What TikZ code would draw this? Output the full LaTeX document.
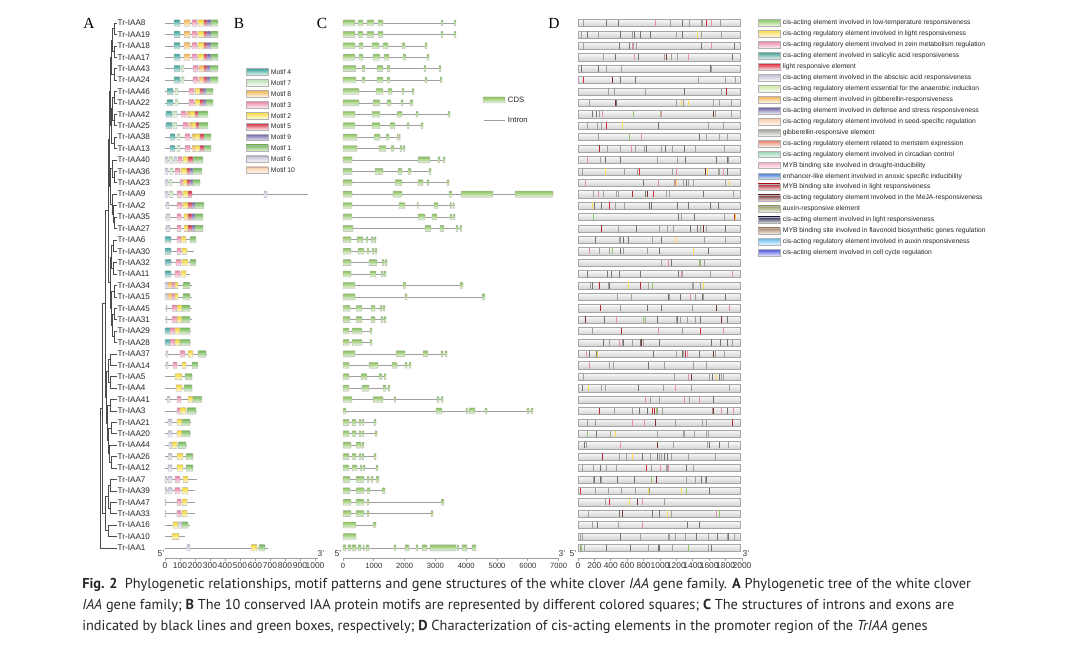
\documentclass[tikz,border=0pt]{standalone}
\usepackage{fontspec}
\setmainfont{Liberation Sans}
\newfontfamily\capfont{PT Sans}
\newfontfamily\letfont{Liberation Serif}
\usetikzlibrary{positioning}

% motif colours
\definecolor{mot4}{RGB}{60,165,155}
\definecolor{mot7}{RGB}{190,225,180}
\definecolor{mot8}{RGB}{245,180,80}
\definecolor{mot3}{RGB}{235,130,165}
\definecolor{mot2}{RGB}{245,215,50}
\definecolor{mot5}{RGB}{210,40,60}
\definecolor{mot9}{RGB}{110,95,165}
\definecolor{mot1}{RGB}{115,185,85}
\definecolor{mot6}{RGB}{195,195,215}
\definecolor{mot10}{RGB}{250,205,165}
\definecolor{cds}{RGB}{140,195,95}
% cis-element colours
\definecolor{cis1}{RGB}{140,200,100}
\definecolor{cis2}{RGB}{250,220,80}
\definecolor{cis3}{RGB}{235,140,170}
\definecolor{cis4}{RGB}{70,160,150}
\definecolor{cis5}{RGB}{215,40,55}
\definecolor{cis6}{RGB}{190,190,210}
\definecolor{cis7}{RGB}{205,230,160}
\definecolor{cis8}{RGB}{245,175,80}
\definecolor{cis9}{RGB}{100,90,160}
\definecolor{cis10}{RGB}{250,200,160}
\definecolor{cis11}{RGB}{160,160,150}
\definecolor{cis12}{RGB}{225,120,100}
\definecolor{cis13}{RGB}{150,210,180}
\definecolor{cis14}{RGB}{245,170,190}
\definecolor{cis15}{RGB}{60,120,210}
\definecolor{cis16}{RGB}{180,40,50}
\definecolor{cis17}{RGB}{120,50,50}
\definecolor{cis18}{RGB}{150,160,100}
\definecolor{cis19}{RGB}{40,40,80}
\definecolor{cis20}{RGB}{170,130,100}
\definecolor{cis21}{RGB}{110,190,235}
\definecolor{cis22}{RGB}{80,90,220}
\definecolor{cisgd}{RGB}{115,115,110}
\def\cisarr{{"cis11","cis11","cis11","cis11","cis11","cis11","cis11","cis11","cis11","cis11","cis11","cis11","cis11","cis11","cisgd","cisgd","cisgd","cisgd","cisgd","cisgd","cisgd","cisgd","cis3","cis3","cis3","cis16","cis2","cis5","cis1","cis17"}}

\begin{document}
\begin{tikzpicture}[x=0.025cm,y=-0.025cm,
    genelabel/.style={anchor=west,inner sep=0.3pt,font=\fontsize{5.8}{6}\selectfont,text=black!85},
    branch/.style={draw=black!70,line width=0.4pt},
    backbone/.style={draw=gray!75,line width=0.45pt},
    intron/.style={draw=gray!75,line width=0.45pt},
    exonbox/.style={draw=gray!65,line width=0.25pt,top color=cds,bottom color=cds!15,rounded corners=0.4pt},
    motifbox/.style={draw=gray!65,line width=0.25pt,top color=#1,bottom color=#1!15,rounded corners=0.4pt},
    cisbar/.style={draw=gray!70,line width=0.3pt,top color=gray!5,bottom color=gray!35},
    swatch/.style={draw=gray!60,line width=0.3pt,top color=#1,bottom color=#1!10},
    legtext/.style={anchor=west,inner sep=0.5pt,font=\fontsize{4.8}{5}\selectfont,text=black!85},
    axisnum/.style={font=\fontsize{6}{6}\selectfont,inner sep=0.5pt,text=black!80},
    panel/.style={font=\letfont\fontsize{11}{11}\selectfont}]
  \useasboundingbox (0,0) rectangle (1080,650);

  % panel letters
  \node[panel] (pA) at (89,23) {A};
  \node[panel] (pB) at (239,23) {B};
  \node[panel] (pC) at (322,23) {C};
  \node[panel] (pD) at (554,23) {D};

  % gene names and leaf points
  \foreach \g [count=\r] in {8,19,18,17,43,24,46,22,42,25,38,13,40,36,23,9,2,35,27,6,30,32,11,34,15,45,31,29,28,37,14,5,4,41,3,21,20,44,26,12,7,39,47,33,16,10,1}{
    \pgfmathsetmacro\yy{23+(\r-1)*11.41}
    \node[genelabel] (g\g) at (117,\yy) {Tr-IAA\g};
    \coordinate (L\r) at (116.5,\yy);
  }

  % tree (A)
  \foreach \n/\x/\m in {c1/114/1.5,c2/114/3.5,c3/112.5/2.5,c4/114/5.5,c5/111.5/4,
      c6/114/7.5,c7/114/9.5,c8/112.5/8.5,c9/114/11.5,c10/111.5/10,c11/110.5/7,
      c12/114/14.5,c13/112/13.75,c14/114/18.5,c15/113/17.75,c16/112/16.875,
      c17/110.5/15.3,c18/109.5/11.15,c19/113/20.5,c20/113/22.5,c21/111.5/21.5,
      c22/114/24.5,c23/114/26.5,c24/114/28.5,c25/112.5/27.5,c26/111.5/26,
      c27/110/23.75,c28/108.5/17.45,c29/110/30.5,c30/110/32.5,c31/108/31.5,
      c32/110/34.5,c33/111/36.5,c34/111/39.5,c35/109.5/38.75,c36/108.5/37.6,
      c37/107.5/36.05,c38/106.5/33.8,c39/105/25.6,c40/110/41.5,c41/110/43.5,
      c42/108/42.5,c43/108/45.5,c44/105.5/44,c45/102.5/34.8,c46/100/40.9}
    \coordinate (\n) at (\x,{23+(\m-1)*11.41});
  \foreach \p/\c in {c1/L1,c1/L2,c2/L3,c2/L4,c3/c1,c3/c2,c4/L5,c4/L6,c5/c3,c5/c4,
      c6/L7,c6/L8,c7/L9,c7/L10,c8/c6,c8/c7,c9/L11,c9/L12,c10/c8,c10/c9,c11/c5,c11/c10,
      c12/L14,c12/L15,c13/L13,c13/c12,c14/L18,c14/L19,c15/L17,c15/c14,c16/L16,c16/c15,
      c17/c13,c17/c16,c18/c11,c18/c17,c19/L20,c19/L21,c20/L22,c20/L23,c21/c19,c21/c20,
      c22/L24,c22/L25,c23/L26,c23/L27,c24/L28,c24/L29,c25/c23,c25/c24,c26/c22,c26/c25,
      c27/c21,c27/c26,c28/c18,c28/c27,c29/L30,c29/L31,c30/L32,c30/L33,c31/c29,c31/c30,
      c32/L34,c32/L35,c33/L36,c33/L37,c34/L39,c34/L40,c35/L38,c35/c34,c36/c33,c36/c35,
      c37/c32,c37/c36,c38/c31,c38/c37,c39/c28,c39/c38,c40/L41,c40/L42,c41/L43,c41/L44,
      c42/c40,c42/c41,c43/L45,c43/L46,c44/c42,c44/c43,c45/c39,c45/c44,c46/c45,c46/L47}
    \draw[branch] (\p) |- (\c);

  % motifs (B)
  \foreach \r/\len/\mots in {
      1/53/{9/15/mot4,19/25/mot8,27/32/mot3,33/39/mot2,39/42/mot5,42/46/mot9,46/53/mot1},
      2/53/{9/15/mot4,19/25/mot8,27/32/mot3,33/39/mot2,39/42/mot5,42/46/mot9,46/53/mot1},
      3/53/{9/15/mot4,19/25/mot8,27/32/mot3,33/39/mot2,39/42/mot5,42/46/mot9,46/53/mot1},
      4/53/{9/15/mot4,19/25/mot8,27/32/mot3,33/39/mot2,39/42/mot5,42/46/mot9,46/53/mot1},
      5/53/{9/15/mot4,16/19/mot7,28/33/mot3,34/39/mot8,39/42/mot5,42/45/mot9,45/53/mot1},
      6/53/{9/15/mot4,16/19/mot7,28/33/mot3,34/39/mot8,39/42/mot5,42/45/mot9,45/53/mot1},
      7/48/{2/8/mot4,10/13/mot7,24/29/mot3,30/35/mot2,35/38/mot5,38/41/mot9,41/48/mot1},
      8/48/{2/8/mot4,10/13/mot7,24/29/mot3,30/35/mot2,35/38/mot5,38/41/mot9,41/48/mot1},
      9/43/{1/7/mot4,8/12/mot7,16/21/mot3,22/25/mot8,25/30/mot2,30/33/mot5,33/43/mot1},
      10/43/{1/7/mot4,8/12/mot7,18/23/mot3,24/27/mot8,27/31/mot2,31/34/mot5,34/43/mot1},
      11/46/{5/10/mot4,12/15/mot7,20/25/mot3,27/30/mot8,30/35/mot2,35/39/mot5,39/46/mot1},
      12/46/{5/10/mot4,12/15/mot7,20/25/mot3,27/30/mot8,30/35/mot2,35/39/mot5,39/46/mot1},
      13/38/{0/3/mot6,4/8/mot7,9/12/mot6,13/17/mot3,18/23/mot2,23/28/mot5,28/38/mot1},
      14/37/{0/3/mot6,5/8/mot7,10/15/mot3,16/22/mot2,22/25/mot5,25/28/mot9,28/37/mot1},
      15/35/{0/3/mot6,4/7/mot7,15/18/mot3,18/22/mot2,22/25/mot5,25/28/mot9,28/35/mot1},
      16/143/{0/3/mot6,4/8/mot7,12/17/mot3,18/23/mot2,23/27/mot5,99/102/mot6},
      17/39/{1/4/mot6,12/17/mot3,18/23/mot2,23/27/mot5,27/30/mot9,30/39/mot1},
      18/38/{1/5/mot6,12/16/mot3,19/23/mot2,23/27/mot5,27/30/mot9,30/38/mot1},
      19/38/{1/5/mot6,12/16/mot3,19/23/mot2,23/27/mot5,27/30/mot9,30/38/mot1},
      20/31/{0/6/mot4,12/16/mot3,16/21/mot2,25/31/mot1},
      21/29/{0/6/mot4,12/16/mot3,17/22/mot2},
      22/31/{0/6/mot4,11/16/mot3,17/23/mot2,25/31/mot1},
      23/25/{0/6/mot4,10/15/mot3,16/21/mot2},
      24/27/{0/3/mot6,3/7/mot8,7/10/mot3,10/13/mot2,18/25/mot1},
      25/27/{0/3/mot6,3/7/mot8,7/10/mot3,10/13/mot2,18/25/mot1},
      26/27/{1/2/mot6,7/12/mot3,12/17/mot2,17/25/mot1},
      27/27/{1/2/mot6,7/12/mot3,12/17/mot2,17/25/mot1},
      28/26/{0/5/mot4,5/10/mot3,10/15/mot2,15/25/mot1},
      29/26/{0/5/mot4,5/10/mot3,10/15/mot2,15/25/mot1},
      30/42/{1/3/mot6,15/20/mot3,23/28/mot2,33/41/mot1},
      31/33/{1/3/mot6,8/12/mot3,17/21/mot2,27/33/mot1},
      32/27/{10/17/mot2,20/27/mot1},
      33/27/{11/17/mot2,19/27/mot1},
      34/37/{2/5/mot6,12/16/mot3,23/28/mot2,28/37/mot1},
      35/32/{12/15/mot3,15/21/mot2,22/31/mot1},
      36/26/{3/7/mot6,12/17/mot2,17/25/mot1},
      37/26/{3/7/mot6,12/17/mot2,17/25/mot1},
      38/22/{4/7/mot6,7/12/mot2,13/21/mot1},
      39/28/{3/7/mot6,12/18/mot2,21/28/mot1},
      40/28/{3/7/mot6,12/18/mot2,21/28/mot1},
      41/32/{0/2/mot6,3/7/mot6,10/15/mot3,18/23/mot2},
      42/30/{0/2/mot6,3/7/mot6,10/15/mot3,17/23/mot2},
      43/30/{0/1/mot6,12/16/mot3,17/22/mot2},
      44/30/{0/1/mot6,12/16/mot3,17/22/mot2},
      45/25/{8/13/mot2,13/17/mot6,17/23/mot1},
      46/20/{7/14/mot2},
      47/103/{22/25/mot6,86/92/mot2,94/100/mot1}}{
    \pgfmathsetmacro\yy{23+(\r-1)*11.41}
    \draw[backbone] (165,\yy) -- (165+\len,\yy);
    \foreach \a/\b/\c in \mots
      \path[motifbox=\c] (165+\a,\yy-3.2) rectangle (165+\b,\yy+3.2);
  }

  % motif legend
  \foreach \m [count=\i] in {4,7,8,3,2,5,9,1,6,10}{
    \pgfmathsetmacro\yy{72+(\i-1)*10.9}
    \path[swatch=mot\m] (246,\yy-3.3) rectangle (268,\yy+3.3);
    \node[legtext] (mleg\m) at (270,\yy) {Motif \m};
  }

  % gene structures (C)
  \foreach \r/\len/\exs in {
      1/113/{0/12,15/20,24/31,35/40,98/100,111/113},
      2/113/{0/12,15/20,24/31,35/40,98/100,111/113},
      3/84/{0/12,16/20,29/36,40/45,59/62,82/84},
      4/86/{0/12,16/20,30/37,41/46,60/63,84/86},
      5/98/{0/13,19/22,34/40,44/47,81/83,96/98},
      6/99/{0/13,19/22,34/40,44/47,82/84,97/99},
      7/71/{0/16,33/40,45/49,59/61,69/71},
      8/70/{0/16,30/37,44/48,58/60,67/70},
      9/107/{0/12,29/37,54/59,73/75,105/107},
      10/80/{0/12,29/37,47/52,64/66,78/80},
      11/57/{0/14,31/37,43/46,54/55.5,56/57.5},
      12/62/{0/14,36/43,48/51,57/59,60/62},
      13/102/{0/9,75/87,95/97,100/102},
      14/88/{0/9,32/40,55/59,65/68,86/88},
      15/106/{0/9,52/59,75/80,84/86,104/106},
      16/210/{0/9,50/59,106/109,118/150,172/210},
      17/111.5/{0/9,56/62,74/75.5,91/95,107/108.5,110/111.5},
      18/112/{0/9,75/82,89/94,107/109,110/112},
      19/119/{0/10,82/88,97/101,113/115,117/119},
      20/33/{0/8,14/20,23/25,28/30,31/33},
      21/34/{0/8,15/21,24/26,29/31,32/34},
      22/44/{0/8,26/34,39/41,42/44},
      23/43/{0/8,27/33,38/40,41/43},
      24/120/{0/12,60/63,117/120},
      25/142/{0/12,62/64,139/142},
      26/42/{0/7,13/19,28/32,37/39,40/42},
      27/43/{0/7,13/19,28/32,38/40,41/43},
      28/29/{0/6,9/19,27/29},
      29/29/{0/6,9/19,27/29},
      30/104/{0/12,53/62,80/85,98/100,102/104},
      31/68/{0/6,26/35,49/54,62/64,66/68},
      32/43/{0/6,18/24,36/39,41/43},
      33/47/{0/6,19/26,40/43,45/47},
      34/100/{0/9,30/40,51/52.5,94/96,98/100},
      35/190/{0/3,93/99,123/124.5,126/132,142/144,184/186,188/190},
      36/33/{0/6,9/13,16/18,19/21,31/33},
      37/34/{0/6,9/13,16/18,19/21,32/34},
      38/21/{0/8,13/18,19/21},
      39/33/{0/6,9/13,16/18,19/21,31/33},
      40/35/{0/6,9/14,17/19,20/22,33/35},
      41/36/{0/7,13/21,24/26,28/30,33/36},
      42/42/{0/7,13/21,24/27,39/42},
      43/101/{0/8,13/21,24/26,98/101},
      44/90/{0/8,13/21,24/26,88/90},
      45/33/{0/13,30/33},
      46/13/{0/13},
      47/133/{0/3,5/8,9/13,15/18,20/21.5,23/26,51/53,62/66,73/75,79/84,87/113,114/115.5,119/124,129/133}}{
    \pgfmathsetmacro\yy{23+(\r-1)*11.41}
    \draw[intron] (343,\yy) -- (343+\len,\yy);
    \foreach \a/\b in \exs
      \path[exonbox] (343+\a,\yy-3) rectangle (343+\b,\yy+3);
  }

  % structure legend
  \path[exonbox] (483,97) rectangle (505,103);
  \node[legtext,font=\fontsize{5.5}{6}\selectfont] (cdsleg) at (507,100) {CDS};
  \draw[intron] (484,120) -- (505,120);
  \node[legtext,font=\fontsize{5.5}{6}\selectfont] (intleg) at (507,120) {Intron};

  % cis-acting elements (D)
  \pgfmathsetseed{7}
  \foreach \r in {1,...,47}{
    \pgfmathsetmacro\yy{23+(\r-1)*11.41}
    \path[cisbar] (578,\yy-3.6) rectangle (740,\yy+3.6);
    \pgfmathrandominteger{\nt}{6}{15}
    \foreach \k in {1,...,\nt}{
      \pgfmathrandominteger{\tp}{2}{157}
      \pgfmathrandominteger{\tc}{0}{29}
      \pgfmathsetmacro\tcol{\cisarr[\tc]}
      \fill[fill=\tcol] (578+\tp,\yy-3.2) rectangle ++(1.4,6.4);
    }
  }

  % cis legend
  \foreach \t [count=\i] in {cis-acting element involved in low-temperature responsiveness,
      cis-acting regulatory element involved in light responsiveness,
      cis-acting regulatory element involved in zein metabolism regulation,
      cis-acting element involved in salicylic acid responsiveness,
      light responsive element,
      cis-acting element involved in the abscisic acid responsiveness,
      cis-acting regulatory element essential for the anaerobic induction,
      cis-acting element involved in gibberellin-responsiveness,
      cis-acting element involved in defense and stress responsiveness,
      cis-acting regulatory element involved in seed-specific regulation,
      gibberellin-responsive element,
      cis-acting regulatory element related to meristem expression,
      cis-acting regulatory element involved in circadian control,
      MYB binding site involved in drought-inducibility,
      enhancer-like element involved in anoxic specific inducibility,
      MYB binding site involved in light responsiveness,
      cis-acting regulatory element involved in the MeJA-responsiveness,
      auxin-responsive element,
      cis-acting element involved in light responsiveness,
      MYB binding site involved in flavonoid biosynthetic genes regulation,
      cis-acting regulatory element involved in auxin responsiveness,
      cis-acting element involved in cell cycle regulation}{
    \pgfmathsetmacro\yy{23+(\i-1)*10.95}
    \path[swatch=cis\i] (758,\yy-3.3) rectangle (780,\yy+3.3);
    \node[legtext] (cleg\i) at (782,\yy) {\t};
  }

  % axes
  \draw[backbone] (165,558) -- (318,558);
  \foreach \k in {0,...,10}{
    \draw[backbone] (165+\k*15,558) -- ++(0,2.5);
    \pgfmathtruncatemacro\lab{\k*100}
    \node[axisnum] at (165+\k*15,566) {\lab};
  }
  \node[axisnum] (b5) at (161,554) {5'};
  \node[axisnum] (b3) at (321,554) {3'};
  \draw[backbone] (343,558) -- (558,558);
  \foreach \k in {0,...,7}{
    \draw[backbone] (343+\k*30.8,558) -- ++(0,2.5);
    \pgfmathtruncatemacro\lab{\k*1000}
    \node[axisnum,font=\fontsize{5.4}{6}\selectfont] at (343+\k*30.8,566) {\lab};
  }
  \node[axisnum] (c5) at (338,554) {5'};
  \node[axisnum] (c3) at (562,554) {3'};
  \draw[backbone] (578,558) -- (742,558);
  \foreach \k in {0,...,10}{
    \draw[backbone] (578+\k*16.4,558) -- ++(0,2.5);
    \pgfmathtruncatemacro\lab{\k*200}
    \node[axisnum] at (578+\k*16.4,566) {\lab};
  }
  \node[axisnum] (d5) at (573,554) {5'};
  \node[axisnum] (d3) at (746,554) {3'};

  % caption
  \begin{scope}[every node/.style={anchor=west,inner sep=0pt,text=black!85,
      font=\capfont\fontsize{10.2}{11}\selectfont}]
    \node (cap1) at (82,585) {\textbf{Fig. 2}\enspace Phylogenetic relationships, motif patterns and gene structures of the white clover \textit{IAA} gene family. \textbf{A} Phylogenetic tree of the white clover};
    \node (cap2) at (82,606) {\textit{IAA} gene family; \textbf{B} The 10 conserved IAA protein motifs are represented by different colored squares; \textbf{C} The structures of introns and exons are};
    \node (cap3) at (82,627) {indicated by black lines and green boxes, respectively; \textbf{D} Characterization of cis-acting elements in the promoter region of the \textit{TrIAA} genes};
  \end{scope}
\end{tikzpicture}
\end{document}
